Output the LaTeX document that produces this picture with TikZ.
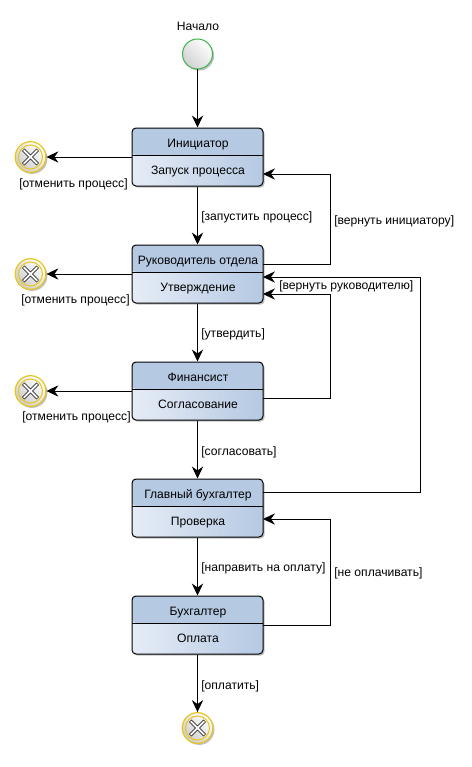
\documentclass[tikz,border=0pt]{standalone}
\usepackage{fontspec}
\setmainfont{Liberation Sans}
\usetikzlibrary{arrows.meta,shadows,calc}
\definecolor{hdrblue}{HTML}{B5C9E3}
\definecolor{bodylight}{HTML}{E6ECF6}
\definecolor{startgreen}{HTML}{3DB54A}
\definecolor{stopyellow}{HTML}{E8C61E}
\tikzset{
  x=0.75pt,y=-0.75pt,
  softshadow/.style={drop shadow={shadow xshift=1.2pt,shadow yshift=-1.2pt,opacity=.25,fill=black}},
  flow/.style={draw=black,line width=0.75pt,-{Stealth[length=9pt,width=8.5pt,inset=3pt]}},
  txt/.style={font=\fontsize{9.1}{11}\selectfont,inner sep=0pt,text=black},
  guard/.style={txt,anchor=west},
  boxtitle/.style={txt,anchor=base},
  taskbox/.style={draw=black,line width=0.75pt,rounded corners=3pt,minimum width=98.25pt,minimum height=43.5pt,inner sep=0pt,softshadow,
    path picture={
      \shade[left color=bodylight,right color=hdrblue] (path picture bounding box.south west) rectangle (path picture bounding box.north east);
      \fill[hdrblue] (path picture bounding box.north west) rectangle ($(path picture bounding box.north east)+(0,-20.25pt)$);
      \draw[black,line width=0.75pt] ($(path picture bounding box.north west)+(0,-20.25pt)$) -- ($(path picture bounding box.north east)+(0,-20.25pt)$);
    }},
  startev/.style={circle,draw=startgreen,line width=0.75pt,minimum size=22.5pt,inner sep=0pt,softshadow,left color=white,right color=black!18,shading angle=-45},
  stopev/.style={circle,draw=stopyellow,line width=0.9pt,minimum size=23pt,inner sep=0pt,softshadow,left color=white,right color=black!20,shading angle=-45,
    path picture={
      \coordinate (stopmid) at (path picture bounding box.center);
      \draw[stopyellow,line width=0.75pt] (stopmid) circle (9pt);
      \draw[black,line width=2.6pt] ($(stopmid)+(-5.4pt,-5.4pt)$) -- ($(stopmid)+(5.4pt,5.4pt)$);
      \draw[black,line width=2.6pt] ($(stopmid)+(-5.4pt,5.4pt)$) -- ($(stopmid)+(5.4pt,-5.4pt)$);
      \draw[white,line width=1.5pt] ($(stopmid)+(-5.1pt,-5.1pt)$) -- ($(stopmid)+(5.1pt,5.1pt)$);
      \draw[white,line width=1.5pt] ($(stopmid)+(-5.1pt,5.1pt)$) -- ($(stopmid)+(5.1pt,-5.1pt)$);
    }},
}
\begin{document}
\begin{tikzpicture}
\useasboundingbox (0,0) rectangle (471,767);
% events
\node[txt] (startlbl) at (198,26) {Начало};
\node[startev] (start) at (197.5,54) {};
\node[stopev] (stopa) at (30.5,157) {};
\node[stopev] (stopb) at (30.5,274) {};
\node[stopev] (stopc) at (30.5,391) {};
\node[stopev] (stopd) at (197.5,728) {};
% boxes
\node[taskbox] (b1) at (197.5,157) {};
\node[taskbox] (b2) at (197.5,274) {};
\node[taskbox] (b3) at (197.5,391) {};
\node[taskbox] (b4) at (197.5,508) {};
\node[taskbox] (b5) at (197.5,625) {};
% box texts
\node[boxtitle] (t1) at (198,147) {Инициатор};
\node[boxtitle] (s1) at (198,174) {Запуск процесса};
\node[boxtitle] (t2) at (198,264) {Руководитель отдела};
\node[boxtitle] (s2) at (198,291) {Утверждение};
\node[boxtitle] (t3) at (198,381) {Финансист};
\node[boxtitle] (s3) at (198,408) {Согласование};
\node[boxtitle] (t4) at (198,498) {Главный бухгалтер};
\node[boxtitle] (s4) at (198,525) {Проверка};
\node[boxtitle] (t5) at (198,615) {Бухгалтер};
\node[boxtitle] (s5) at (198,642) {Оплата};
% side ports
\coordinate (p1in) at (263,174);
\coordinate (p2outa) at (263,264);
\coordinate (p2ina) at (263,277);
\coordinate (p2inb) at (263,294);
\coordinate (p3out) at (263,398);
\coordinate (p4out) at (263,492);
\coordinate (p4in) at (263,519);
\coordinate (p5out) at (263,625);
% main flow
\draw[flow] (start.south) -- (b1.north);
\draw[flow] (b1.south) -- (b2.north);
\draw[flow] (b2.south) -- (b3.north);
\draw[flow] (b3.south) -- (b4.north);
\draw[flow] (b4.south) -- (b5.north);
\draw[flow] (b5.south) -- (stopd.north);
% cancels
\draw[flow] (b1.west) -- (stopa.east);
\draw[flow] (b2.west) -- (stopb.east);
\draw[flow] (b3.west) -- (stopc.east);
% returns
\draw[flow] (p2outa) -- (330,264) -- (330,174) -- (p1in);
\draw[flow] (p3out) -- (330,398) -- (330,294) -- (p2inb);
\draw[flow] (p4out) -- (420.5,492) -- (420.5,277) -- (p2ina);
\draw[flow] (p5out) -- (330,625) -- (330,519) -- (p4in);
% guards
\node[guard] (g1) at (19,184) {[отменить процесс]};
\node[guard] (g2) at (21,300) {[отменить процесс]};
\node[guard] (g3) at (22,417) {[отменить процесс]};
\node[guard] (g4) at (201,217) {[запустить процесс]};
\node[guard] (g5) at (334,221) {[вернуть инициатору]};
\node[guard] (g6) at (279,286.5) {[вернуть руководителю]};
\node[guard] (g7) at (201,334) {[утвердить]};
\node[guard] (g8) at (201,452) {[согласовать]};
\node[guard] (g9) at (201,568.5) {[направить на оплату]};
\node[guard] (g10) at (334,573) {[не оплачивать]};
\node[guard] (g11) at (201,686) {[оплатить]};
\end{tikzpicture}
\end{document}
